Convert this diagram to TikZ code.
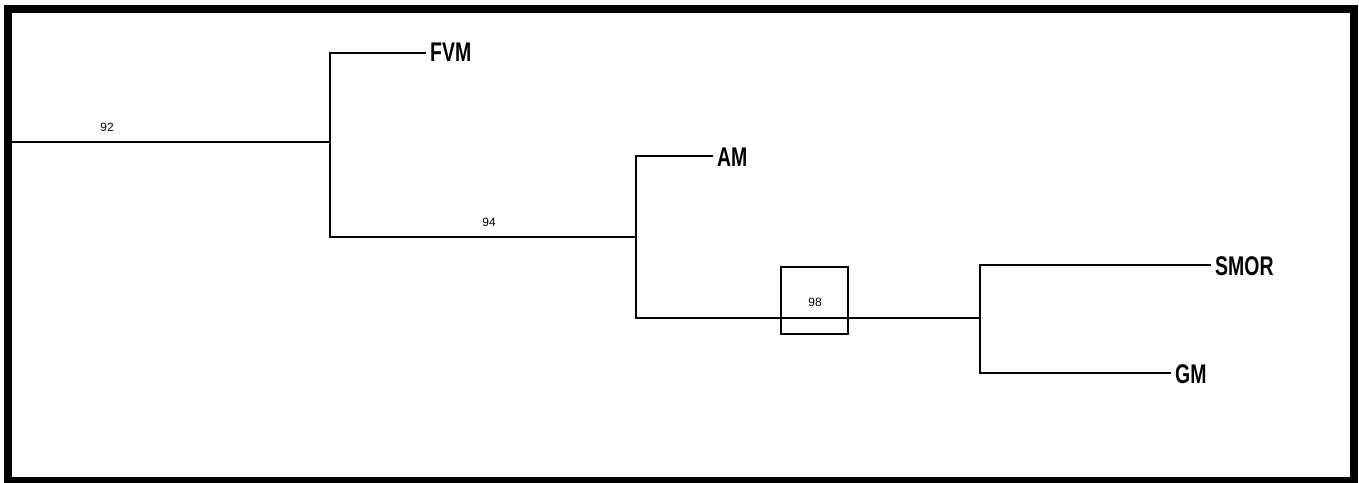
\documentclass[tikz,border=0pt]{standalone}
\usepackage{fontspec}
\setmainfont{Liberation Sans}
\newfontfamily\taxfont[FakeStretch=0.72]{Liberation Sans Bold}
\begin{document}
\begin{tikzpicture}[x=1pt,y=-1pt,
  branch/.style={line width=2pt,line cap=rect},
  taxon/.style={font=\taxfont\fontsize{27}{27}\selectfont,anchor=west,inner xsep=5pt,inner ysep=2pt},
  boot/.style={font=\fontsize{12}{12}\selectfont,inner sep=0pt},
  frame/.style={line width=8pt}]
\useasboundingbox (0,0) rectangle (1359,482);
\draw[frame] (8,9) rectangle (1353.5,481);
% internal nodes
\coordinate (root) at (12,142);
\coordinate (n1) at (330,142);
\coordinate (n1t) at (330,53);
\coordinate (n1b) at (330,237);
\coordinate (n2) at (636,237);
\coordinate (n2t) at (636,156);
\coordinate (n2b) at (636,318);
\coordinate (n3) at (980,318);
\coordinate (n3t) at (980,265);
\coordinate (n3b) at (980,373);
% taxa
\node[taxon] (FVM) at (425,52) {FVM};
\node[taxon] (AM) at (712,157) {AM};
\node[taxon] (SMOR) at (1210,266) {SMOR};
\node[taxon] (GM) at (1170,374) {GM};
% branches
\draw[branch] (root) -- (n1);
\draw[branch] (n1t) -- (n1b);
\draw[branch] (n1t) -- (n1t -| FVM.west);
\draw[branch] (n1b) -- (n2);
\draw[branch] (n2t) -- (n2b);
\draw[branch] (n2t) -- (n2t -| AM.west);
\draw[branch] (n2b) -- (n3);
\draw[branch] (n3t) -- (n3b);
\draw[branch] (n3t) -- (n3t -| SMOR.west);
\draw[branch] (n3b) -- (n3b -| GM.west);
% bootstrap labels
\node[boot] (b92) at (107,127) {92};
\node[boot] (b94) at (489,222) {94};
\node[boot] (b98) at (815,302) {98};
\node[draw,line width=1.2pt,minimum width=67pt,minimum height=67pt,inner sep=0pt] (box98) at (814.5,300.5) {};
\end{tikzpicture}
\end{document}
